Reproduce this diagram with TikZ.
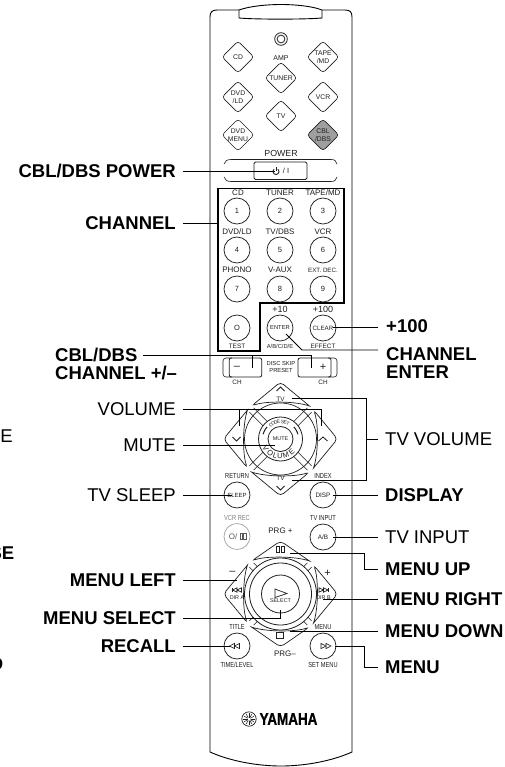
\documentclass[tikz,border=0pt]{standalone}
\usepackage{fontspec}
\setmainfont{Liberation Sans}
\newfontfamily\narfont[FakeStretch=0.78]{Liberation Sans}
\usetikzlibrary{shapes.geometric,calc}
\definecolor{ink}{gray}{0.12}
\tikzset{
  lab/.style={font=\fontsize{18.5}{18}\selectfont,inner sep=0pt,text=black,text height=13pt,text depth=0pt},
  labb/.style={lab,font=\fontsize{18.5}{18}\selectfont\bfseries},
  labm/.style={font=\fontsize{18.5}{18}\selectfont\bfseries,inner sep=0pt,align=left},
  leader/.style={draw=black,line width=0.95pt},
  outl/.style={draw=ink,line width=0.6pt},
  body/.style={draw=black,line width=0.9pt},
  tiny/.style={font=\fontsize{8}{8}\selectfont,inner sep=0pt,text=ink},
  nar/.style={font=\narfont\fontsize{7.3}{8}\selectfont,inner sep=0pt,text=ink},
  micro/.style={font=\fontsize{6.4}{7}\selectfont,inner sep=0pt,text=ink,align=center},
  dmd/.style={shape=diamond,outl,rounded corners=3pt,minimum width=32pt,minimum height=32pt,inner sep=0pt,aspect=1,font=\fontsize{6.8}{7.4}\selectfont,align=center,text=ink},
  rbtn/.style={shape=circle,outl,line width=0.75pt,minimum size=26pt,inner sep=0pt,font=\fontsize{7.5}{8}\selectfont,text=ink},
  gbtn/.style={rbtn,draw=gray!70},
  frame/.style={draw=black,line width=1.05pt},
  sym/.style={draw=ink,line width=0.6pt}
}
% double triangle: x, y, direction
\newcommand{\twotri}[3]{%
  \draw[sym] (#1,#2) -- ++({#3*5},-2.6) -- ++(0,5.2) -- cycle;
  \draw[sym] ({#1+#3*5},#2) -- ++({#3*5},-2.6) -- ++(0,5.2) -- cycle;}
\newcommand{\crossarm}[2]{% rotation, tip
  \begin{scope}[rotate=#1]
    \draw[outl,line width=0.7pt,rounded corners=4pt] (0,{-#2}) -- (-29,-33) [sharp corners] .. controls (-15,-38) and (15,-38) .. (29,-33) [rounded corners=4pt] -- cycle;
  \end{scope}}
\begin{document}
\begin{tikzpicture}[x=1pt,y=-1pt]
\useasboundingbox (0,0) rectangle (504,767);
\fill[white] (0,0) rectangle (504,767);

% ---- body
\draw[body] (210,752) -- (210,17) .. controls (210,12) and (212,10) .. (217,10) -- (239,10)
  .. controls (250,6) and (268,4.5) .. (281,4.5) .. controls (294,4.5) and (312,6) .. (322,10)
  -- (345,10) .. controls (350,10) and (352,12) .. (352,17) -- (352,752)
  .. controls (332,761) and (305,766) .. (281,766) .. controls (257,766) and (230,761) .. (210,752) -- cycle;
\draw[body] (239,10) -- (239,18) .. controls (255,19.5) and (305,19.5) .. (322,18) -- (322,10);
\draw[outl,line width=0.8pt] (281,39) circle[radius=6.3pt] (281,39) circle[radius=3.9pt];

% ---- top source keys
\node[dmd] (kcd) at (238,57) {CD};
\node[dmd] (ktape) at (323,57) {TAPE\\/MD};
\node[tiny,font=\fontsize{7}{7}\selectfont] (tamp) at (281,58.5) {AMP};
\node[dmd] (ktuner) at (281,78) {TUNER};
\node[dmd] (kdvd) at (238,97) {DVD\\/LD};
\node[dmd] (kvcr) at (323,97) {VCR};
\node[dmd] (ktv) at (281,116) {TV};
\node[dmd] (kmenu) at (238,135) {DVD\\MENU};
\node[dmd,fill=gray!75] (kcbl) at (323,135) {CBL\\/DBS};

% ---- power
\node[tiny,font=\fontsize{8.8}{9}\selectfont] (tpower) at (281,153) {POWER};
\draw[outl] (224,164) .. controls (225,161) and (227,159.5) .. (231,159.5) -- (331,159.5) .. controls (335,159.5) and (336,161) .. (337,164);
\draw[outl] (224,177) .. controls (225,180) and (227,181.5) .. (231,181.5) -- (331,181.5) .. controls (335,181.5) and (336,180) .. (337,177);
\node[outl,line width=0.8pt,rounded corners=1.5pt,minimum width=53pt,minimum height=17.5pt,inner sep=0pt] (kpower) at (280.5,170.7) {};
\draw[sym,line width=0.9pt] plot[domain=-50:230,samples=20] ({276+2.9*sin(\x+90+0)},{171.5-2.9*cos(\x+90+0)});
\draw[sym,line width=0.9pt] (276,167) -- (276,171);
\node[tiny,font=\fontsize{7.5}{8}\selectfont] (tslash) at (286,171) {/ I};

% ---- channel frame
\draw[frame] (218,188.3) -- (344,188.3) -- (344,303) -- (260,303) -- (260,351) -- (218,351) -- cycle;

\foreach \nm/\x/\y/\t in {a/238/193/CD,b/280/193/TUNER,c/323/193/TAPE\slash MD,d/237/232/DVD\slash LD,e/280/232/TV\slash DBS,f/323/232/VCR,g/237/270/PHONO,h/280/270/V-AUX}
  \node[tiny] (t\nm) at (\x,\y) {\t};
\node[tiny,font=\fontsize{6.2}{7}\selectfont] (ti) at (323,270) {EXT. DEC.};
\foreach \nm/\x/\y/\t in {1/237/211/1,2/280/211/2,3/323/211/3,4/237/250/4,5/280/250/5,6/323/250/6,7/237/289/7,8/280/289/8,9/323/289/9,0/237/328/O}
  \node[rbtn] (n\nm) at (\x,\y) {\t};
\node[rbtn,font=\fontsize{5.8}{6}\selectfont] (nenter) at (280,328) {ENTER};
\node[rbtn,font=\fontsize{6.2}{6}\selectfont] (nclear) at (323,328) {CLEAR};
\node[tiny,font=\fontsize{9}{9}\selectfont] (tp10) at (280,309) {+10};
\node[tiny,font=\fontsize{9}{9}\selectfont] (tp100) at (323,309) {+100};
\node[micro] (ttest) at (237,346) {TEST};
\node[micro,font=\fontsize{5.8}{7}\selectfont] (tabc) at (280,346) {A/B/C/D/E};
\node[micro] (teff) at (323,346) {EFFECT};

% ---- channel +/-
\draw[outl,rounded corners=3pt] (232,358) -- (223,358) -- (223,377) -- (232,377);
\draw[outl,rounded corners=3pt] (328,358) -- (337,358) -- (337,377) -- (328,377);
\node[outl,line width=0.8pt,rounded corners=2pt,minimum width=32.5pt,minimum height=19pt,inner sep=0pt] (kminus) at (245.5,367.5) {};
\node[outl,line width=0.8pt,rounded corners=2pt,minimum width=33pt,minimum height=19pt,inner sep=0pt] (kplus) at (314.5,367.5) {};
\node[tiny,font=\fontsize{11}{11}\selectfont] (tminus) at (237,367.5) {–};
\node[tiny,font=\fontsize{11}{11}\selectfont] (tplus) at (323,367.5) {+};
\node[micro,font=\fontsize{5.8}{7}\selectfont] (tdisc) at (281,367) {DISC SKIP\\PRESET};
\node[micro] (tch1) at (237,382) {CH};
\node[micro] (tch2) at (323,382) {CH};

% ---- volume cross
\begin{scope}[shift={(280.5,439)}]
  \crossarm{0}{57}\crossarm{90}{57}\crossarm{180}{57}\crossarm{270}{57}
  \draw[outl,line width=0.7pt] (0,0) circle[radius=36pt];
  \draw[outl,line width=0.8pt] (0,0) circle[radius=22pt];
  \foreach \r in {45,135,225,315} {
    \begin{scope}[rotate=\r]
      \draw[outl] (-3,-21.8) -- (-3,-41);
      \draw[outl] (3,-21.8) -- (3,-41);
    \end{scope}}
  \draw[outl,line width=1pt] plot[domain=195:222,samples=8] ({18*cos(\x)},{18*sin(\x)});
  \draw[outl,line width=1pt] plot[domain=318:345,samples=8] ({18*cos(\x)},{18*sin(\x)});
  \foreach \c/\a in {C/-34,O/-25,D/-16,E/-7,S/7,E/16,T/25}
    \node[micro,font=\fontsize{4.8}{5}\selectfont,rotate=-\a] at ({17.3*sin(\a)},{-17.3*cos(\a)}) {\c};
  \foreach \c/\a in {V/-58,O/-36,L/-18,U/-2,M/18,E/40}
    \node[micro,font=\fontsize{7.5}{8}\selectfont,rotate=\a] at ({17.5*sin(\a)},{17.2*cos(\a)}) {\c};
  \draw[sym,line width=0.8pt] (-4,-48) -- (0,-52) -- (4,-48);
  \draw[sym,line width=0.8pt] (-4,47) -- (0,51) -- (4,47);
  \draw[sym,line width=0.8pt] (-48,-2) -- (-44,2) -- (-40,-2);
  \draw[sym,line width=0.8pt] (47,2) -- (42.5,-2) -- (38,2);
\end{scope}
\node[shape=circle,outl,line width=0.8pt,minimum size=25pt,inner sep=0pt,micro,font=\fontsize{5.4}{6}\selectfont] (kmute) at (280.5,439) {MUTE};
\node[micro] (ttvu) at (280.5,399) {TV};
\node[micro] (ttvd) at (280.5,478) {TV};

% ---- mid keys
\node[nar] (tret) at (237,476) {RETURN};
\node[nar] (tidx) at (323,476) {INDEX};
\node[rbtn,font=\fontsize{6}{7}\selectfont] (ksleep) at (237,495) {SLEEP};
\node[rbtn,font=\fontsize{6.4}{7}\selectfont] (kdisp) at (323,495) {DISP};
\node[nar,text=gray] (tvcr) at (237,518) {VCR REC};
\node[nar] (ttvi) at (323,518) {TV INPUT};
\node[gbtn] (kvcrrec) at (237,536.5) {};
\node[tiny,font=\fontsize{8}{8}\selectfont,text=gray!70!black] (tvcro) at (233,536.5) {O/};
\draw[sym,draw=gray!70!black] (240,533.5) rectangle (242.6,539.5) (243.4,533.5) rectangle (246,539.5);
\node[rbtn,font=\fontsize{6.4}{7}\selectfont] (kab) at (323,537) {A/B};
\node[tiny] (tprgp) at (280.5,531) {PRG +};

% ---- menu cross
\begin{scope}[shift={(280.5,594)}]
  \crossarm{0}{53}\crossarm{90}{57}\crossarm{180}{53}\crossarm{270}{57}
  \draw[outl,line width=0.8pt] (0,0) circle[radius=36pt];
  \draw[outl,line width=0.8pt] (0,0) circle[radius=31pt];
  \foreach \r in {45,135,225,315} {
    \begin{scope}[rotate=\r]
      \draw[outl] (-3,-36) -- (-3,-41);
      \draw[outl] (3,-36) -- (3,-41);
    \end{scope}}
\end{scope}
\node[shape=circle,outl,line width=0.8pt,minimum size=38pt,inner sep=0pt] (kselect) at (280.5,594) {};
\draw[sym,line width=0.7pt] (275,589) -- (287,593.5) -- (275,597.5) -- cycle;
\node[micro,font=\fontsize{5.4}{6}\selectfont] (tsel) at (280.5,600.5) {SELECT};
\draw[sym,line width=0.8pt] (276.5,546) rectangle (279.6,552) (281.4,546) rectangle (284.5,552);
\draw[sym,line width=0.8pt] (276.5,632.5) rectangle (283.5,638);
\node[tiny,font=\fontsize{11}{11}\selectfont] (tmin) at (232.5,573) {–};
\node[tiny,font=\fontsize{11}{11}\selectfont] (tpls) at (327.5,573) {+};
% skip symbols
\draw[sym,line width=0.9pt] (232,588) -- (232,592);
\draw[sym,line width=0.7pt] (232.5,590) -- (237,587.8) -- (237,592.2) -- cycle (237,590) -- (241.5,587.8) -- (241.5,592.2) -- cycle;
\draw[sym,line width=0.9pt] (328.5,588) -- (328.5,592);
\draw[sym,line width=0.7pt] (328,590) -- (323.5,587.8) -- (323.5,592.2) -- cycle (323.5,590) -- (319,587.8) -- (319,592.2) -- cycle;
\node[micro,font=\fontsize{5.4}{6}\selectfont] (tdira) at (237,597.5) {DIR A};
\node[micro,font=\fontsize{5.4}{6}\selectfont] (tdirb) at (323.5,597.5) {DIR B};

\node[nar] (ttitle) at (237,627) {TITLE};
\node[nar] (tmenu) at (323,627) {MENU};
\node[rbtn] (krecall) at (237,646) {};
\node[rbtn] (ksetm) at (323,646) {};
\twotri{229.5}{646}{1}
\twotri{331}{646}{-1}
\node[tiny] (tprgm) at (285,654) {PRG–};
\node[nar] (ttime) at (237,665) {TIME/LEVEL};
\node[nar] (tsetm) at (323,665) {SET MENU};

% ---- logo
\draw[outl,line width=0.7pt] (249,719) circle[radius=7.2pt];
\foreach \a in {0,30,...,330}
  \draw[sym,line width=0.55pt] ({249+1.5*cos(\a)},{719+1.5*sin(\a)}) -- ({249+5.6*cos(\a)},{719+5.6*sin(\a)});
\node[inner sep=0pt,font=\fontsize{16.8}{17}\selectfont\bfseries] (tyam) at (288.5,719) {\scalebox{0.8}[1]{\addfontfeature{FakeBold=1.2}YAMAHA}};

% ---- labels left
\node[labb,anchor=east] (lpower) at (176,171) {CBL/DBS POWER};
\node[labb,anchor=east] (lchan) at (176,223) {CHANNEL};
\node[labm,anchor=north west] (lcbl) at (55,348) {CBL/DBS\\CHANNEL +/–};
\node[lab,anchor=east] (lvol) at (176,409) {VOLUME};
\node[lab,anchor=east] (lmute) at (176,445) {MUTE};
\node[lab,anchor=east] (lsleep) at (176,495) {TV SLEEP};
\node[labb,anchor=east] (lleft) at (176,580) {MENU LEFT};
\node[labb,anchor=east] (lsel) at (176,618) {MENU SELECT};
\node[labb,anchor=east] (lrec) at (176,646) {RECALL};
% cut off at the left edge
\node[lab,anchor=east] (lcutA) at (13,436) {E};
\node[labb,anchor=east] (lcutB) at (14.5,553) {SE};
\node[labb,anchor=east] (lcutC) at (1,617) {D};
\node[labb,anchor=east] (lcutD) at (3.5,664) {D};

% ---- labels right
\node[labb,anchor=west] (rp100) at (386,326) {+100};
\node[labm,anchor=north west] (renter) at (386,347) {CHANNEL\\ENTER};
\node[lab,anchor=west] (rtvv) at (385,439) {TV VOLUME};
\node[labb,anchor=west] (rdisp) at (385,495) {DISPLAY};
\node[lab,anchor=west] (rtvi) at (385,537) {TV INPUT};
\node[labb,anchor=west] (rup) at (385,569) {MENU UP};
\node[labb,anchor=west] (rright) at (385,599) {MENU RIGHT};
\node[labb,anchor=west] (rdown) at (385,631) {MENU DOWN};
\node[labb,anchor=west] (rmenu) at (385,667) {MENU};

% ---- connectors
\coordinate (ecbl) at (143,355);
\coordinate (eent) at (378,350);
\coordinate (jvol) at (239,409);
\coordinate (jtv) at (366,439);
\draw[leader] ([xshift=7pt]lpower.east) -- (275,171);
\draw[leader] ([xshift=7pt]lchan.east) -- (218,223);
\draw[leader] (ecbl) -- (311,355) -- (311,368);
\draw[leader] (252,355) -- (252,368);
\draw[leader] ([xshift=7pt]lvol.east) -- (321,409) -- (321,426);
\draw[leader] (jvol) -- (239,426);
\draw[leader] ([xshift=7pt]lmute.east) -- (275,445);
\draw[leader] ([xshift=7pt]lsleep.east) -- (232,495);
\draw[leader] ([xshift=7pt]lleft.east) -- (237,580);
\draw[leader] ([xshift=7pt]lsel.east) -- (280,618) -- (280,610);
\draw[leader] ([xshift=7pt]lrec.east) -- (230,646);
\draw[leader] (378,327) -- (333,327);
\draw[leader] (eent) -- (302,350) -- (286,334);
\draw[leader] ([xshift=-7pt]rtvv.west) -- (jtv);
\draw[leader] (292,398) -- (366,398) -- (366,480) -- (292,480);
\draw[leader] ([xshift=-7pt]rdisp.west) -- (333,495);
\draw[leader] ([xshift=-7pt]rtvi.west) -- (333,537);
\draw[leader] ([xshift=-7pt]rup.west) -- (364,569) -- (364,553) -- (290,553);
\draw[leader] ([xshift=-7pt]rright.west) -- (323,599);
\draw[leader] ([xshift=-7pt]rdown.west) -- (290,631);
\draw[leader] ([xshift=-7pt]rmenu.west) -- (364,667) -- (364,646) -- (335,646);
\end{tikzpicture}
\end{document}
